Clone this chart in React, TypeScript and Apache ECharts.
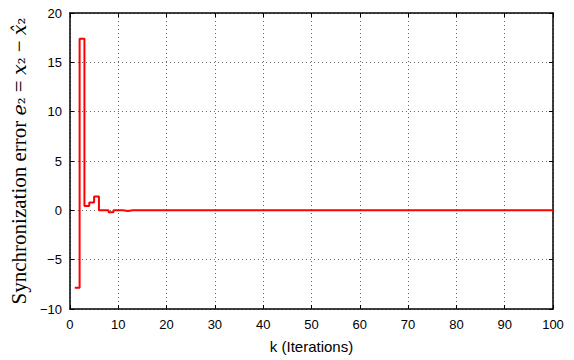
import React, { useEffect, useRef } from "react";
import * as echarts from "echarts";

const iterations: number[] = Array.from({ length: 100 }, (_, i) => i + 1);
const earlyErrors: number[] = [-7.85, 17.4, 0.45, 0.8, 1.4, 0.0, 0.0, -0.2, 0.0, 0.0, -0.06, 0.0];
const settledError: number[] = Array(100 - earlyErrors.length).fill(0);
const errorValues: number[] = [...earlyErrors, ...settledError];
const xTicks: number[] = [0, 10, 20, 30, 40, 50, 60, 70, 80, 90, 100];
const yTicks: number[] = [-10, -5, 0, 5, 10, 15, 20];

export default function App() {
  const ref = useRef<HTMLDivElement>(null);
  useEffect(() => {
    if (!ref.current) return;
    const chart = echarts.init(ref.current, undefined, { renderer: "svg" });
    const data = iterations.map((k, i) => [k, errorValues[i]]);
    const splitStyle = { show: true, lineStyle: { color: "#666", type: [1, 3] as any, width: 1 } };
    const tickStyle = { show: true, inside: true, length: 4, lineStyle: { color: "#000", width: 1 } };
    const frame = { show: true, onZero: false, lineStyle: { color: "#000", width: 1.5 } };
    const serif = "Liberation Serif, DejaVu Serif, serif";
    chart.setOption({
      animation: false,
      backgroundColor: "#fff",
      grid: { left: 65, right: 21, top: 13, bottom: 51, show: false },
      xAxis: [
        {
          type: "value",
          min: xTicks[0],
          max: xTicks[xTicks.length - 1],
          interval: 10,
          name: "k (Iterations)",
          nameLocation: "middle",
          nameGap: 30,
          nameTextStyle: { fontFamily: "Liberation Sans, Arial", fontSize: 15, color: "#000" },
          axisLine: frame,
          axisTick: tickStyle,
          axisLabel: { fontFamily: "Liberation Sans, Arial", fontSize: 13, color: "#000", margin: 9 },
          splitLine: splitStyle,
        },
        {
          type: "value",
          position: "top",
          min: xTicks[0],
          max: xTicks[xTicks.length - 1],
          interval: 10,
          axisLine: frame,
          axisTick: tickStyle,
          axisLabel: { show: false },
          splitLine: { show: false },
        },
      ],
      yAxis: [
        {
          type: "value",
          min: yTicks[0],
          max: yTicks[yTicks.length - 1],
          interval: 5,
          name:
            "{a|Synchronization error }{i|e}{s|₂}{a| = }{i|x}{s|₂}{a| − }{i|x̂}{s|₂}",
          nameLocation: "middle",
          nameGap: 36,
          nameTextStyle: {
            rich: {
              a: { fontFamily: serif, fontSize: 21, color: "#000" },
              i: { fontFamily: "DejaVu Serif, serif", fontStyle: "italic", fontSize: 19, color: "#000" },
              s: { fontFamily: "DejaVu Serif, serif", fontSize: 17, color: "#000" },
            },
          },
          axisLine: frame,
          axisTick: tickStyle,
          axisLabel: {
            fontFamily: "Liberation Sans, Arial",
            fontSize: 13,
            color: "#000",
            margin: 8,
            formatter: (v: number) => (v < 0 ? "\u2212" + Math.abs(v) : String(v)),
          },
          splitLine: splitStyle,
        },
        {
          type: "value",
          position: "right",
          min: yTicks[0],
          max: yTicks[yTicks.length - 1],
          interval: 5,
          axisLine: frame,
          axisTick: tickStyle,
          axisLabel: { show: false },
          splitLine: { show: false },
        },
      ],
      series: [
        {
          type: "line",
          data,
          step: "end",
          showSymbol: false,
          symbol: "none",
          lineStyle: { color: "#ff0000", width: 2 },
          xAxisIndex: 0,
          yAxisIndex: 0,
        },
      ],
    });
    return () => chart.dispose();
  }, []);
  return <div ref={ref} style={{ width: 574, height: 360, position: "absolute", left: 0, top: 0 }} />;
}
